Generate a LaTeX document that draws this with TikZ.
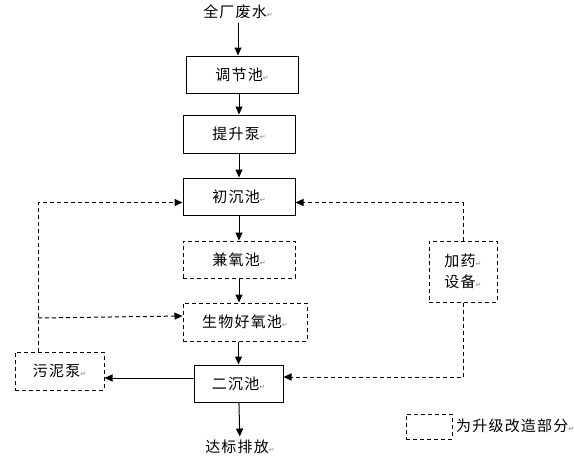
\documentclass[tikz,border=0pt]{standalone}
\usepackage{fontspec}
\usepackage{tikz}
\usetikzlibrary{arrows.meta}
\newfontfamily\cjk[LetterSpace=8]{Noto Sans CJK SC}
\newfontfamily\symf{DejaVu Sans}
\newcommand\retmark{{\symf\fontsize{7}{7}\selectfont\color{gray}\char"21B5}}

\begin{document}
\begin{tikzpicture}[x=1pt,y=-1pt,
    every node/.style={font=\cjk\fontsize{15}{21}\selectfont},
    tank/.style={draw,line width=1pt,inner sep=0pt},
    newtank/.style={tank,dash pattern=on 4pt off 3pt},
    flow/.style={line width=1pt,-{Triangle[length=8pt,width=7pt]}},
    newflow/.style={flow,dash pattern=on 4pt off 3pt}]
                \useasboundingbox (0,0) rectangle (574,472);
                % main line
                \node (src) at (238,12) {全厂废水\retmark};
                \node[tank,minimum width=112pt,minimum height=37pt] (tjc) at (242,74.5) {调节池\retmark};
                \node[tank,minimum width=112pt,minimum height=38pt] (tsb) at (239,134) {提升泵\retmark};
                \node[tank,minimum width=112pt,minimum height=37pt] (ccc) at (239,196.5) {初沉池\retmark};
                \node[newtank,minimum width=112pt,minimum height=37pt] (jyc) at (239,259.5) {兼氧池\retmark};
                \node[newtank,minimum width=124pt,minimum height=38pt] (hyc) at (245,322) {生物好氧池\retmark};
                \node[tank,minimum width=89pt,minimum height=37pt] (ecc) at (238.5,383.5) {二沉池\retmark};
                \node (dbpf) at (240,447) {达标排放\retmark};
                % side units
                \node[newtank,minimum width=89pt,minimum height=38pt] (wnb) at (59.5,371) {污泥泵\retmark};
                \node[newtank,minimum width=68pt,minimum height=61pt,align=center] (jysb) at (463,271.5) {加药\retmark\\设备\retmark};
                % legend
                \node[newtank,minimum width=46pt,minimum height=25pt] (leg) at (429,426.5) {};
                \node[anchor=west,inner sep=0pt] (legtxt) at (456,426) {为升级改造部分\retmark};
                \coordinate (rl) at (38,352);
                \coordinate (br) at (38,318);

                \draw[flow] (src.south) -- (src.south |- tjc.north);
                \draw[flow] (tsb.north |- tjc.south) -- (tsb.north);
                \draw[flow] (tsb) -- (ccc);
                \draw[flow] (ccc) -- (jyc);
                \draw[flow] (jyc.south) -- (jyc.south |- hyc.north);
                \draw[flow] (ecc.north |- hyc.south) -- (ecc.north);
                \draw[flow] (ecc) -- (dbpf);
                \draw[flow] ([yshift=5.5pt]ecc.west) -- ([yshift=5.5pt]ecc.west -| wnb.east);
                % return sludge and dosing
                \draw[newflow] (rl) |- ([yshift=-6pt]ccc.west);
                \draw[newflow] (br) -- ([yshift=6pt]hyc.west);
                \draw[newflow] (jysb.north) |- ([yshift=-6pt]ccc.east);
                \draw[newflow] (jysb.south) |- ([yshift=6.5pt]ecc.east);
\end{tikzpicture}
\end{document}
